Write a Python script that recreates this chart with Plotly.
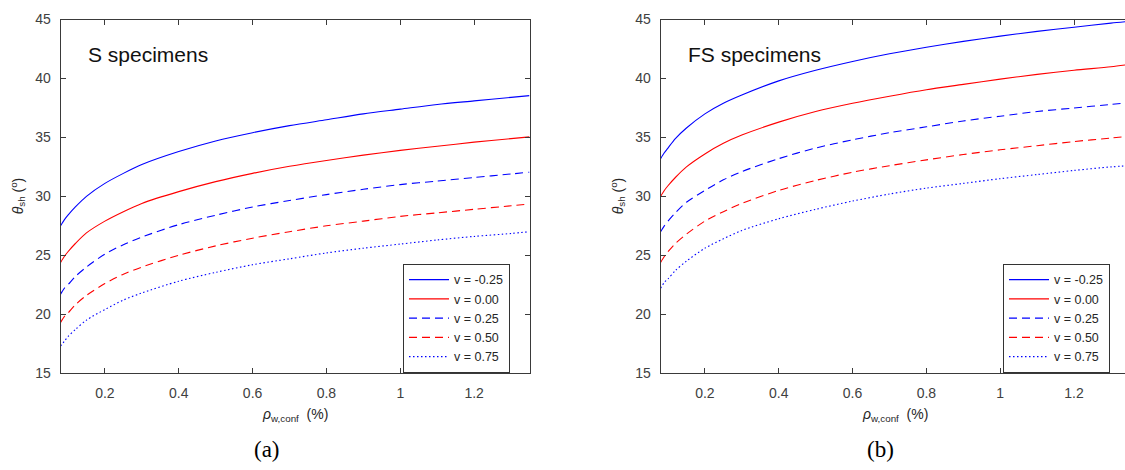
import plotly.graph_objects as go

# ---------------- data ----------------
rho = [0.08, 0.09, 0.10, 0.12, 0.15, 0.20, 0.25, 0.30, 0.40, 0.50,
       0.60, 0.70, 0.80, 0.90, 1.00, 1.10, 1.20, 1.30, 1.35]

series_names = ["v = -0.25", "v = 0.00", "v = 0.25", "v = 0.50", "v = 0.75"]

# (a) S specimens
s_m025 = [27.5, 28.0, 28.4, 29.1, 30.0, 31.1, 31.95, 32.7, 33.8, 34.7,
          35.4, 36.0, 36.5, 37.0, 37.4, 37.8, 38.1, 38.4, 38.55]
s_000 = [24.4, 24.9, 25.3, 26.0, 26.9, 27.9, 28.7, 29.4, 30.4, 31.25,
         31.95, 32.55, 33.05, 33.5, 33.9, 34.25, 34.6, 34.9, 35.05]
s_025 = [21.7, 22.2, 22.5, 23.2, 24.0, 25.1, 25.9, 26.55, 27.6, 28.4,
         29.1, 29.65, 30.15, 30.6, 31.0, 31.3, 31.6, 31.9, 32.05]
s_050 = [19.3, 19.8, 20.1, 20.8, 21.6, 22.6, 23.4, 24.0, 25.0, 25.8,
         26.45, 27.0, 27.5, 27.9, 28.3, 28.6, 28.9, 29.2, 29.35]
s_075 = [17.3, 17.7, 18.1, 18.7, 19.5, 20.4, 21.2, 21.8, 22.8, 23.55,
         24.2, 24.7, 25.2, 25.6, 25.95, 26.3, 26.6, 26.85, 27.0]

# (b) FS specimens
fs_m025 = [33.2, 33.7, 34.1, 34.9, 35.8, 37.0, 37.9, 38.6, 39.8, 40.7,
           41.45, 42.1, 42.65, 43.15, 43.6, 44.0, 44.35, 44.7, 44.85]
fs_000 = [30.0, 30.5, 30.9, 31.6, 32.5, 33.6, 34.5, 35.2, 36.3, 37.2,
          37.9, 38.5, 39.05, 39.5, 39.95, 40.35, 40.7, 41.0, 41.2]
fs_025 = [27.0, 27.5, 27.9, 28.6, 29.5, 30.5, 31.4, 32.1, 33.2, 34.1,
          34.8, 35.4, 35.9, 36.4, 36.8, 37.2, 37.5, 37.8, 37.95]
fs_050 = [24.4, 24.9, 25.3, 26.0, 26.8, 27.9, 28.7, 29.4, 30.5, 31.35,
          32.05, 32.6, 33.1, 33.55, 33.95, 34.3, 34.65, 34.95, 35.1]
fs_075 = [22.2, 22.7, 23.0, 23.7, 24.5, 25.6, 26.4, 27.1, 28.1, 28.9,
          29.6, 30.2, 30.7, 31.1, 31.5, 31.85, 32.2, 32.5, 32.6]

x_tick_vals = [0.2, 0.4, 0.6, 0.8, 1.0, 1.2]
x_tick_text = ["0.2", "0.4", "0.6", "0.8", "1", "1.2"]
y_tick_vals = [15, 20, 25, 30, 35, 40, 45]
y_tick_text = ["15", "20", "25", "30", "35", "40", "45"]

# ---------------- styling ----------------
W, H = 1125, 470
SANS = "Liberation Sans, Arial, Helvetica, sans-serif"
SERIF = "Liberation Serif, Times New Roman, serif"
TXT = "#262626"
AX = "#3a3a3a"

styles = [
    dict(color="#0000FF", dash="solid"),
    dict(color="#FF0000", dash="solid"),
    dict(color="#0000FF", dash="8px,5px"),
    dict(color="#FF0000", dash="8px,5px"),
    dict(color="#0000FF", dash="1.5px,2.5px"),
]

fig = go.Figure()

panel_a = [s_m025, s_000, s_025, s_050, s_075]
panel_b = [fs_m025, fs_000, fs_025, fs_050, fs_075]

for name, ys, st in zip(series_names, panel_a, styles):
    fig.add_trace(go.Scatter(
        x=rho, y=ys, name=name, mode="lines",
        line=dict(color=st["color"], dash=st["dash"], width=1.1, shape="spline",
                  smoothing=0.8),
        xaxis="x", yaxis="y", legend="legend"))

for name, ys, st in zip(series_names, panel_b, styles):
    fig.add_trace(go.Scatter(
        x=rho, y=ys, name=name, mode="lines",
        line=dict(color=st["color"], dash=st["dash"], width=1.1, shape="spline",
                  smoothing=0.8),
        xaxis="x2", yaxis="y2", legend="legend2"))


def px_x(p):
    return p / W


def px_y(p):
    return 1 - p / H


common_x = dict(
    tickvals=x_tick_vals, ticktext=x_tick_text, ticks="inside", ticklen=5,
    tickcolor=AX, showline=True, linecolor=AX, linewidth=1, showgrid=False,
    zeroline=False, tickfont=dict(family=SANS, size=14, color="#404040"),
    ticklabelstandoff=7,
)
common_y = dict(
    tickvals=y_tick_vals, ticktext=y_tick_text, ticks="inside", ticklen=5,
    tickcolor=AX, showline=True, linecolor=AX, linewidth=1, showgrid=False,
    zeroline=False, range=[15, 45],
    tickfont=dict(family=SANS, size=14, color="#404040"),
    ticklabelstandoff=6,
)

y_dom = [px_y(378), px_y(12)]

legend_common = dict(
    xanchor="left", yanchor="top", bgcolor="white", bordercolor="#333333",
    borderwidth=1, font=dict(family=SANS, size=12.5, color=TXT),
    itemwidth=40, tracegroupgap=0, traceorder="normal",
    itemclick=False, itemdoubleclick=False,
)

fig.update_layout(
    width=W, height=H, margin=dict(l=0, r=0, t=0, b=0),
    paper_bgcolor="white", plot_bgcolor="white",
    font=dict(family=SANS, color=TXT),
    xaxis=dict(domain=[px_x(60.6), px_x(529.5)], range=[0.08, 1.35],
               mirror="ticks", anchor="y", **common_x),
    yaxis=dict(domain=y_dom, mirror="ticks", anchor="x", **common_y),
    xaxis2=dict(domain=[px_x(660.6), 1.0], range=[0.08, 1.338],
                mirror="ticks", anchor="y2", **common_x),
    yaxis2=dict(domain=y_dom, mirror=False, anchor="x2", **common_y),
    legend=dict(x=px_x(403), y=px_y(265), **legend_common),
    legend2=dict(x=px_x(1003), y=px_y(265), **legend_common),
    showlegend=True,
)

annotations = [
    # panel labels inside plots
    dict(text="S specimens", x=px_x(86), y=px_y(48), xref="paper", yref="paper",
         xanchor="left", yanchor="middle", showarrow=False,
         font=dict(family=SANS, size=21, color="#111111")),
    dict(text="FS specimens", x=px_x(686), y=px_y(48), xref="paper", yref="paper",
         xanchor="left", yanchor="middle", showarrow=False,
         font=dict(family=SANS, size=21, color="#111111")),
    # y axis titles
    dict(text="<i>θ</i><sub>sh</sub> (<sup>o</sup>)", x=px_x(18), y=px_y(195),
         xref="paper", yref="paper", xanchor="center", yanchor="middle",
         textangle=-90, showarrow=False, font=dict(family=SANS, size=14, color=TXT)),
    dict(text="<i>θ</i><sub>sh</sub> (<sup>o</sup>)", x=px_x(618), y=px_y(195),
         xref="paper", yref="paper", xanchor="center", yanchor="middle",
         textangle=-90, showarrow=False, font=dict(family=SANS, size=14, color=TXT)),
    # x axis titles
    dict(text="<i>ρ</i><sub>w,conf</sub>  (%)", x=px_x(295), y=px_y(421),
         xref="paper", yref="paper", xanchor="center", yanchor="middle",
         showarrow=False, font=dict(family=SANS, size=14, color=TXT)),
    dict(text="<i>ρ</i><sub>w,conf</sub>  (%)", x=px_x(895), y=px_y(421),
         xref="paper", yref="paper", xanchor="center", yanchor="middle",
         showarrow=False, font=dict(family=SANS, size=14, color=TXT)),
    # captions
    dict(text="(a)", x=px_x(267), y=px_y(457), xref="paper", yref="paper",
         xanchor="center", yanchor="middle", showarrow=False,
         font=dict(family=SERIF, size=23, color="#000000")),
    dict(text="(b)", x=px_x(880), y=px_y(457), xref="paper", yref="paper",
         xanchor="center", yanchor="middle", showarrow=False,
         font=dict(family=SERIF, size=23, color="#000000")),
]
fig.update_layout(annotations=annotations)

fig.write_html("out.html")
